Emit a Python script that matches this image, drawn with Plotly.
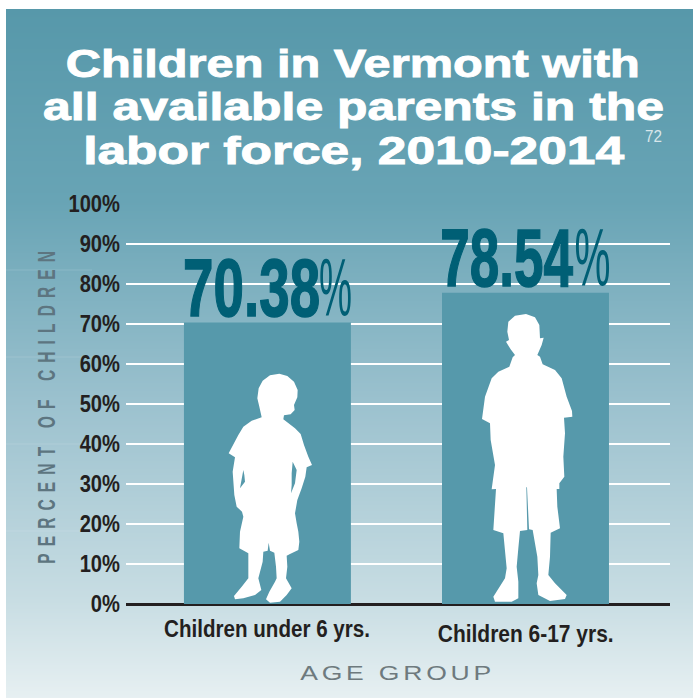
"""Children in Vermont with working parents: silhouette bar chart."""

import json

import plotly.graph_objects as go

W, H = 693, 698

TITLE_LINES = ["Children in Vermont with", "all available parents in the", "labor force, 2010-2014"]
CATEGORIES = ["Children under 6 yrs.", "Children 6-17 yrs."]
BAR_VALUES = [70.38, 77.8]
VALUE_LABELS = ["70.38", "78.54"]
Y_TICKS = list(range(0, 101, 10))
Y_TICK_LABELS = [f"{v}%" for v in Y_TICKS]

TEAL = "#5699ab"
DARK_TEAL = "#005f75"
INK = "#231f20"
SANS = "Liberation Sans, sans-serif"

# panel gradient stops: (page y, rgb)
GRAD = [(9, (87, 152, 170)), (200, (104, 164, 181)), (400, (155, 193, 206)),
        (600, (200, 221, 227)), (698, (231, 240, 242))]
# hairline seams in the left of the panel
SEAMS = [270, 357, 444, 531]

# silhouettes, in page pixels
KID_SMALL = [(245, 172), (238, 140), (232, 115), (236, 85), (248, 62), (270, 46), (298, 41), (322, 48),
             (342, 65), (353, 90), (352, 112), (342, 135), (344, 150), (332, 163), (312, 166), (310, 178),
             (345, 205), (362, 222), (372, 255), (385, 290), (396, 315), (380, 322), (376, 350), (365, 385),
             (352, 420), (345, 460), (350, 490), (355, 515), (358, 545), (355, 570), (330, 582), (320, 587),
             (322, 620), (318, 655), (335, 685), (320, 705), (300, 725), (270, 728), (258, 718), (268, 695),
             (285, 665), (290, 655), (288, 620), (283, 578), (270, 572), (266, 548), (263, 572), (250, 575),
             (248, 605), (235, 655), (244, 690), (225, 705), (190, 715), (165, 718), (162, 708), (185, 680),
             (205, 655), (205, 580), (178, 565), (180, 515), (190, 470), (186, 455), (170, 440), (163, 405),
             (158, 335), (165, 292), (146, 280), (175, 225), (190, 200), (215, 182)]
KID_SMALL_HOLES = [[(338, 305), (350, 330), (345, 370), (333, 400), (335, 375), (335, 340)],
                   [(190, 330), (180, 385), (195, 365), (193, 345)]]
KID_BIG = [(225, 165), (212, 148), (198, 125), (207, 120), (202, 95), (205, 65), (225, 47), (258, 42),
           (285, 52), (298, 75), (300, 115), (311, 113), (305, 135), (292, 165), (300, 170), (308, 193),
           (345, 210), (365, 235), (380, 290), (396, 333), (397, 350), (372, 353), (375, 400), (370, 470),
           (373, 530), (358, 550), (358, 567), (350, 567), (352, 620), (360, 685), (332, 698), (330, 770),
           (325, 825), (345, 850), (380, 885), (375, 897), (330, 903), (295, 885), (290, 850), (295, 825),
           (292, 770), (278, 690), (267, 688), (261, 562), (259, 562), (262, 690), (240, 693), (235, 745),
           (230, 800), (235, 845), (235, 895), (215, 905), (165, 905), (160, 890), (195, 835), (200, 805),
           (190, 700), (160, 690), (168, 567), (155, 568), (165, 495), (152, 420), (150, 370), (126, 357),
           (135, 290), (155, 235), (175, 215), (208, 200), (218, 172)]


def px(x):
    return x / W


def py(y):
    return 1 - y / H


def grad_color(y):
    for (y0, c0), (y1, c1) in zip(GRAD, GRAD[1:]):
        if y <= y1:
            t = (y - y0) / (y1 - y0)
            return "rgb(%d,%d,%d)" % tuple(round(a + (b - a) * t) for a, b in zip(c0, c1))
    return "rgb(%d,%d,%d)" % GRAD[-1][1]


def sil_path(points, x0, y0, scale=1 / 3):
    xy = [(px(x0 + a * scale), py(y0 + b * scale)) for a, b in points]
    return "M" + " L".join(f"{a:.5f},{b:.5f}" for a, b in xy) + " Z"


shapes = []
for y in range(9, H, 2):
    # one px overlap so no seams between the bands
    shapes.append(dict(type="rect", xref="paper", yref="paper", layer="below", x0=px(6), x1=1,
                       y0=py(y), y1=py(min(y + 3, H)), fillcolor=grad_color(y), line_width=0))
for y in SEAMS:
    shapes.append(dict(type="line", xref="paper", yref="paper", layer="below", x0=px(6), x1=px(92),
                       y0=py(y), y1=py(y), line=dict(color="rgba(255,255,255,0.13)", width=1)))

small_path = sil_path(KID_SMALL, 180, 360) + " ".join(sil_path(h, 180, 360) for h in KID_SMALL_HOLES)
shapes.append(dict(type="path", xref="paper", yref="paper", path=small_path, fillcolor="white",
                   fillrule="evenodd", line_width=0, layer="above"))
shapes.append(dict(type="path", xref="paper", yref="paper", path=sil_path(KID_BIG, 440, 300),
                   fillcolor="white", line_width=0, layer="above"))

fig = go.Figure(go.Bar(x=[0, 1], y=BAR_VALUES, width=0.647, marker=dict(color=TEAL, line_width=0),
                       hoverinfo="skip"))

annotations = []
# index -> target text width, letter spacing, stroke; applied in the page script (no condensed font here)
fit = {}


def note(fit_w=None, spacing=0, stroke=0, **kw):
    if fit_w:
        fit[len(annotations)] = dict(w=fit_w, ls=spacing, stroke=stroke)
    annotations.append(dict(showarrow=False, xanchor="center", yanchor="middle", **kw))


for text, y, w in zip(TITLE_LINES, [64, 107, 151], [574, 621, 541]):
    note(w, 0, 0.9, text=f"<b>{text}</b>", xref="paper", yref="paper", x=px(353), y=py(y),
         font=dict(family=SANS, size=38, color="white"))
note(17, text="72", xref="paper", yref="paper", x=px(653.5), y=py(136),
     font=dict(family=SANS, size=17, color="#d8e6ea"))
for i, (label, val, nums, pct) in enumerate(zip(VALUE_LABELS, BAR_VALUES, [(-16, 137), (-18, 133)], [(68, 33), (67, 36)])):
    note(nums[1], 0, 1.5, text=f"<b>{label}</b>", x=i, y=val, yshift=35, xshift=nums[0],
         font=dict(family=SANS, size=82, color=DARK_TEAL))
    note(pct[1], text="%", x=i, y=val, yshift=35, xshift=pct[0],
         font=dict(family=SANS, size=82, color=DARK_TEAL))
for i, (cat, shift, w) in enumerate(zip(CATEGORIES, [-24, -29], [206, 176])):
    note(w, text=f"<b>{cat}</b>", x=i, y=0, yshift=shift, font=dict(family=SANS, size=24, color=INK))
note(320, 11, text="<b>PERCENT OF CHILDREN</b>", xref="paper", yref="paper", x=px(47.5), y=py(404),
     textangle=-90, font=dict(family=SANS, size=24, color="#5d7580"))
note(195, 3, text="AGE GROUP", xref="paper", yref="paper", x=px(397), y=py(672),
     font=dict(family=SANS, size=21, color="#6e7a7e"))

fig.update_layout(
    width=W,
    height=H,
    margin=dict(l=0, r=0, t=0, b=0, autoexpand=False),
    paper_bgcolor="white",
    plot_bgcolor="rgba(0,0,0,0)",
    showlegend=False,
    shapes=shapes,
    annotations=annotations,
    xaxis=dict(domain=[px(126), px(670)], range=[-0.548, 1.56], showticklabels=False, showgrid=False,
               zeroline=False, ticks=""),
    yaxis=dict(domain=[py(604), py(204)], range=[0, 100], tickvals=Y_TICKS, ticktext=Y_TICK_LABELS,
               gridcolor="white", gridwidth=2, zeroline=True, zerolinecolor=INK, zerolinewidth=3,
               ticks="", ticklabelstandoff=5,
               tickfont=dict(family=SANS, size=24, color=INK, weight="bold")),
)

POST = """
document.body.style.margin = '0';
var fit = %s;
function squeeze(el, sx, right) {
  var b = el.getBBox();
  var ax = right ? b.x + b.width : b.x + b.width / 2;
  var old = el.getAttribute('transform') || '';
  el.setAttribute('transform', old + ' translate(' + ax + ',0) scale(' + sx + ',1) translate(' + (-ax) + ',0)');
}
Object.keys(fit).forEach(function (i) {
  var el = document.querySelector('g.annotation[data-index="' + i + '"] text');
  if (fit[i].ls) { el.style.letterSpacing = fit[i].ls + 'px'; }
  if (fit[i].stroke) {
    el.style.stroke = el.style.fill;
    el.style.strokeWidth = fit[i].stroke + 'px';
  }
  squeeze(el, fit[i].w / el.getBBox().width, false);
});
document.querySelectorAll('.ytick text').forEach(function (el) { squeeze(el, 0.84, true); });
""" % json.dumps(fit)

fig.write_html("out.html", config=dict(displayModeBar=False), post_script=POST)
